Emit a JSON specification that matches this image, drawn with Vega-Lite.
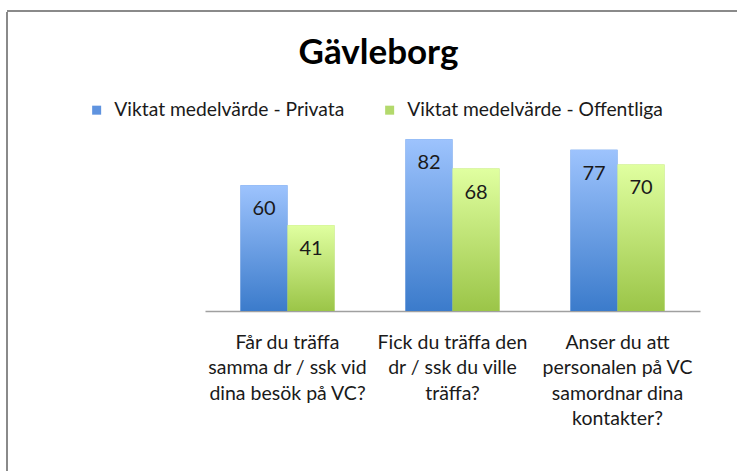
{
  "$schema": "https://vega.github.io/schema/vega-lite/v6.json",
  "width": 731,
  "height": 465,
  "autosize": "none",
  "padding": {"left": 7, "top": 11, "right": -1, "bottom": -1},
  "background": "white",
  "config": {
    "view": {"stroke": "#8a8a8a", "strokeWidth": 2, "strokeDash": [731, 1201, 459, 1]},
    "font": "Lato"
  },
  "title": {
    "text": "Gävleborg",
    "anchor": "middle",
    "frame": "group",
    "orient": "top",
    "offset": 0,
    "dy": 88,
    "dx": 6,
    "baseline": "alphabetic",
    "font": "Lato",
    "fontSize": 35,
    "fontWeight": "bold",
    "color": "#000000"
  },
  "data": {
    "values": [
      {"question": "Får du träffa samma dr / ssk vid dina besök på VC?", "series": "Viktat medelvärde - Privata", "value": 60},
      {"question": "Får du träffa samma dr / ssk vid dina besök på VC?", "series": "Viktat medelvärde - Offentliga", "value": 41},
      {"question": "Fick du träffa den dr / ssk du ville träffa?", "series": "Viktat medelvärde - Privata", "value": 82},
      {"question": "Fick du träffa den dr / ssk du ville träffa?", "series": "Viktat medelvärde - Offentliga", "value": 68},
      {"question": "Anser du att personalen på VC samordnar dina kontakter?", "series": "Viktat medelvärde - Privata", "value": 77},
      {"question": "Anser du att personalen på VC samordnar dina kontakter?", "series": "Viktat medelvärde - Offentliga", "value": 70}
    ]
  },
  "encoding": {
    "x": {
      "field": "question",
      "type": "nominal",
      "sort": null,
      "scale": {"range": [198, 693], "paddingInner": 0.43, "paddingOuter": 0.215},
      "axis": {
        "title": null,
        "orient": "bottom",
        "offset": -165,
        "domainColor": "#a0a0a0",
        "domainWidth": 1.5,
        "ticks": false,
        "labelAngle": 0,
        "labelFont": "Lato",
        "labelFontSize": 19.5,
        "labelColor": "#1a1a1a",
        "labelLimit": 0,
        "labelPadding": 22,
        "labelLineHeight": 25.5,
        "labelBaseline": "top",
        "labelExpr": "datum.value == 'Får du träffa samma dr / ssk vid dina besök på VC?' ? ['Får du träffa', 'samma dr / ssk vid', 'dina besök på VC?'] : datum.value == 'Fick du träffa den dr / ssk du ville träffa?' ? ['Fick du träffa den', 'dr / ssk du ville', 'träffa?'] : ['Anser du att', 'personalen på VC', 'samordnar dina', 'kontakter?']"
      }
    },
    "xOffset": {
      "field": "series",
      "type": "nominal",
      "sort": ["Viktat medelvärde - Privata", "Viktat medelvärde - Offentliga"],
      "scale": {"paddingInner": 0, "paddingOuter": 0}
    },
    "y": {
      "field": "value",
      "type": "quantitative",
      "scale": {"domain": [0, 100], "range": [300, 90.6]},
      "axis": null
    }
  },
  "layer": [
    {
      "mark": {"type": "bar"},
      "encoding": {
        "fill": {
          "field": "series",
          "type": "nominal",
          "sort": ["Viktat medelvärde - Privata", "Viktat medelvärde - Offentliga"],
          "scale": {"domain": ["Viktat medelvärde - Privata", "Viktat medelvärde - Offentliga"], "range": ["#5f93df", "#b3d96c"]},
          "legend": {
            "title": null,
            "orient": "none",
            "legendX": 80,
            "legendY": 89.5,
            "direction": "horizontal",
            "columns": 2,
            "columnPadding": 35,
            "padding": 0,
            "symbolType": "square",
            "symbolSize": 81,
            "symbolStrokeWidth": 0,
            "labelFont": "Lato",
            "labelFontSize": 19.3,
            "labelColor": "#1a1a1a",
            "labelOffset": 8,
            "labelLimit": 0
          }
        }
      }
    },
    {
      "mark": {"type": "bar"},
      "encoding": {
        "fill": {
          "condition": {
            "test": "datum.series === 'Viktat medelvärde - Privata'",
            "value": {"gradient": "linear", "x1": 0, "y1": 0, "x2": 0, "y2": 1, "stops": [{"offset": 0, "color": "#9dc3fd"}, {"offset": 1, "color": "#3b7bcb"}]}
          },
          "value": {"gradient": "linear", "x1": 0, "y1": 0, "x2": 0, "y2": 1, "stops": [{"offset": 0, "color": "#e0ffa0"}, {"offset": 1, "color": "#9bc548"}]}
        }
      }
    },
    {
      "mark": {"type": "text", "baseline": "middle", "align": "center", "dy": 24, "font": "Lato", "fontSize": 20, "color": "#1a1a1a"},
      "encoding": {
        "text": {"field": "value", "type": "quantitative"}
      }
    }
  ]
}
